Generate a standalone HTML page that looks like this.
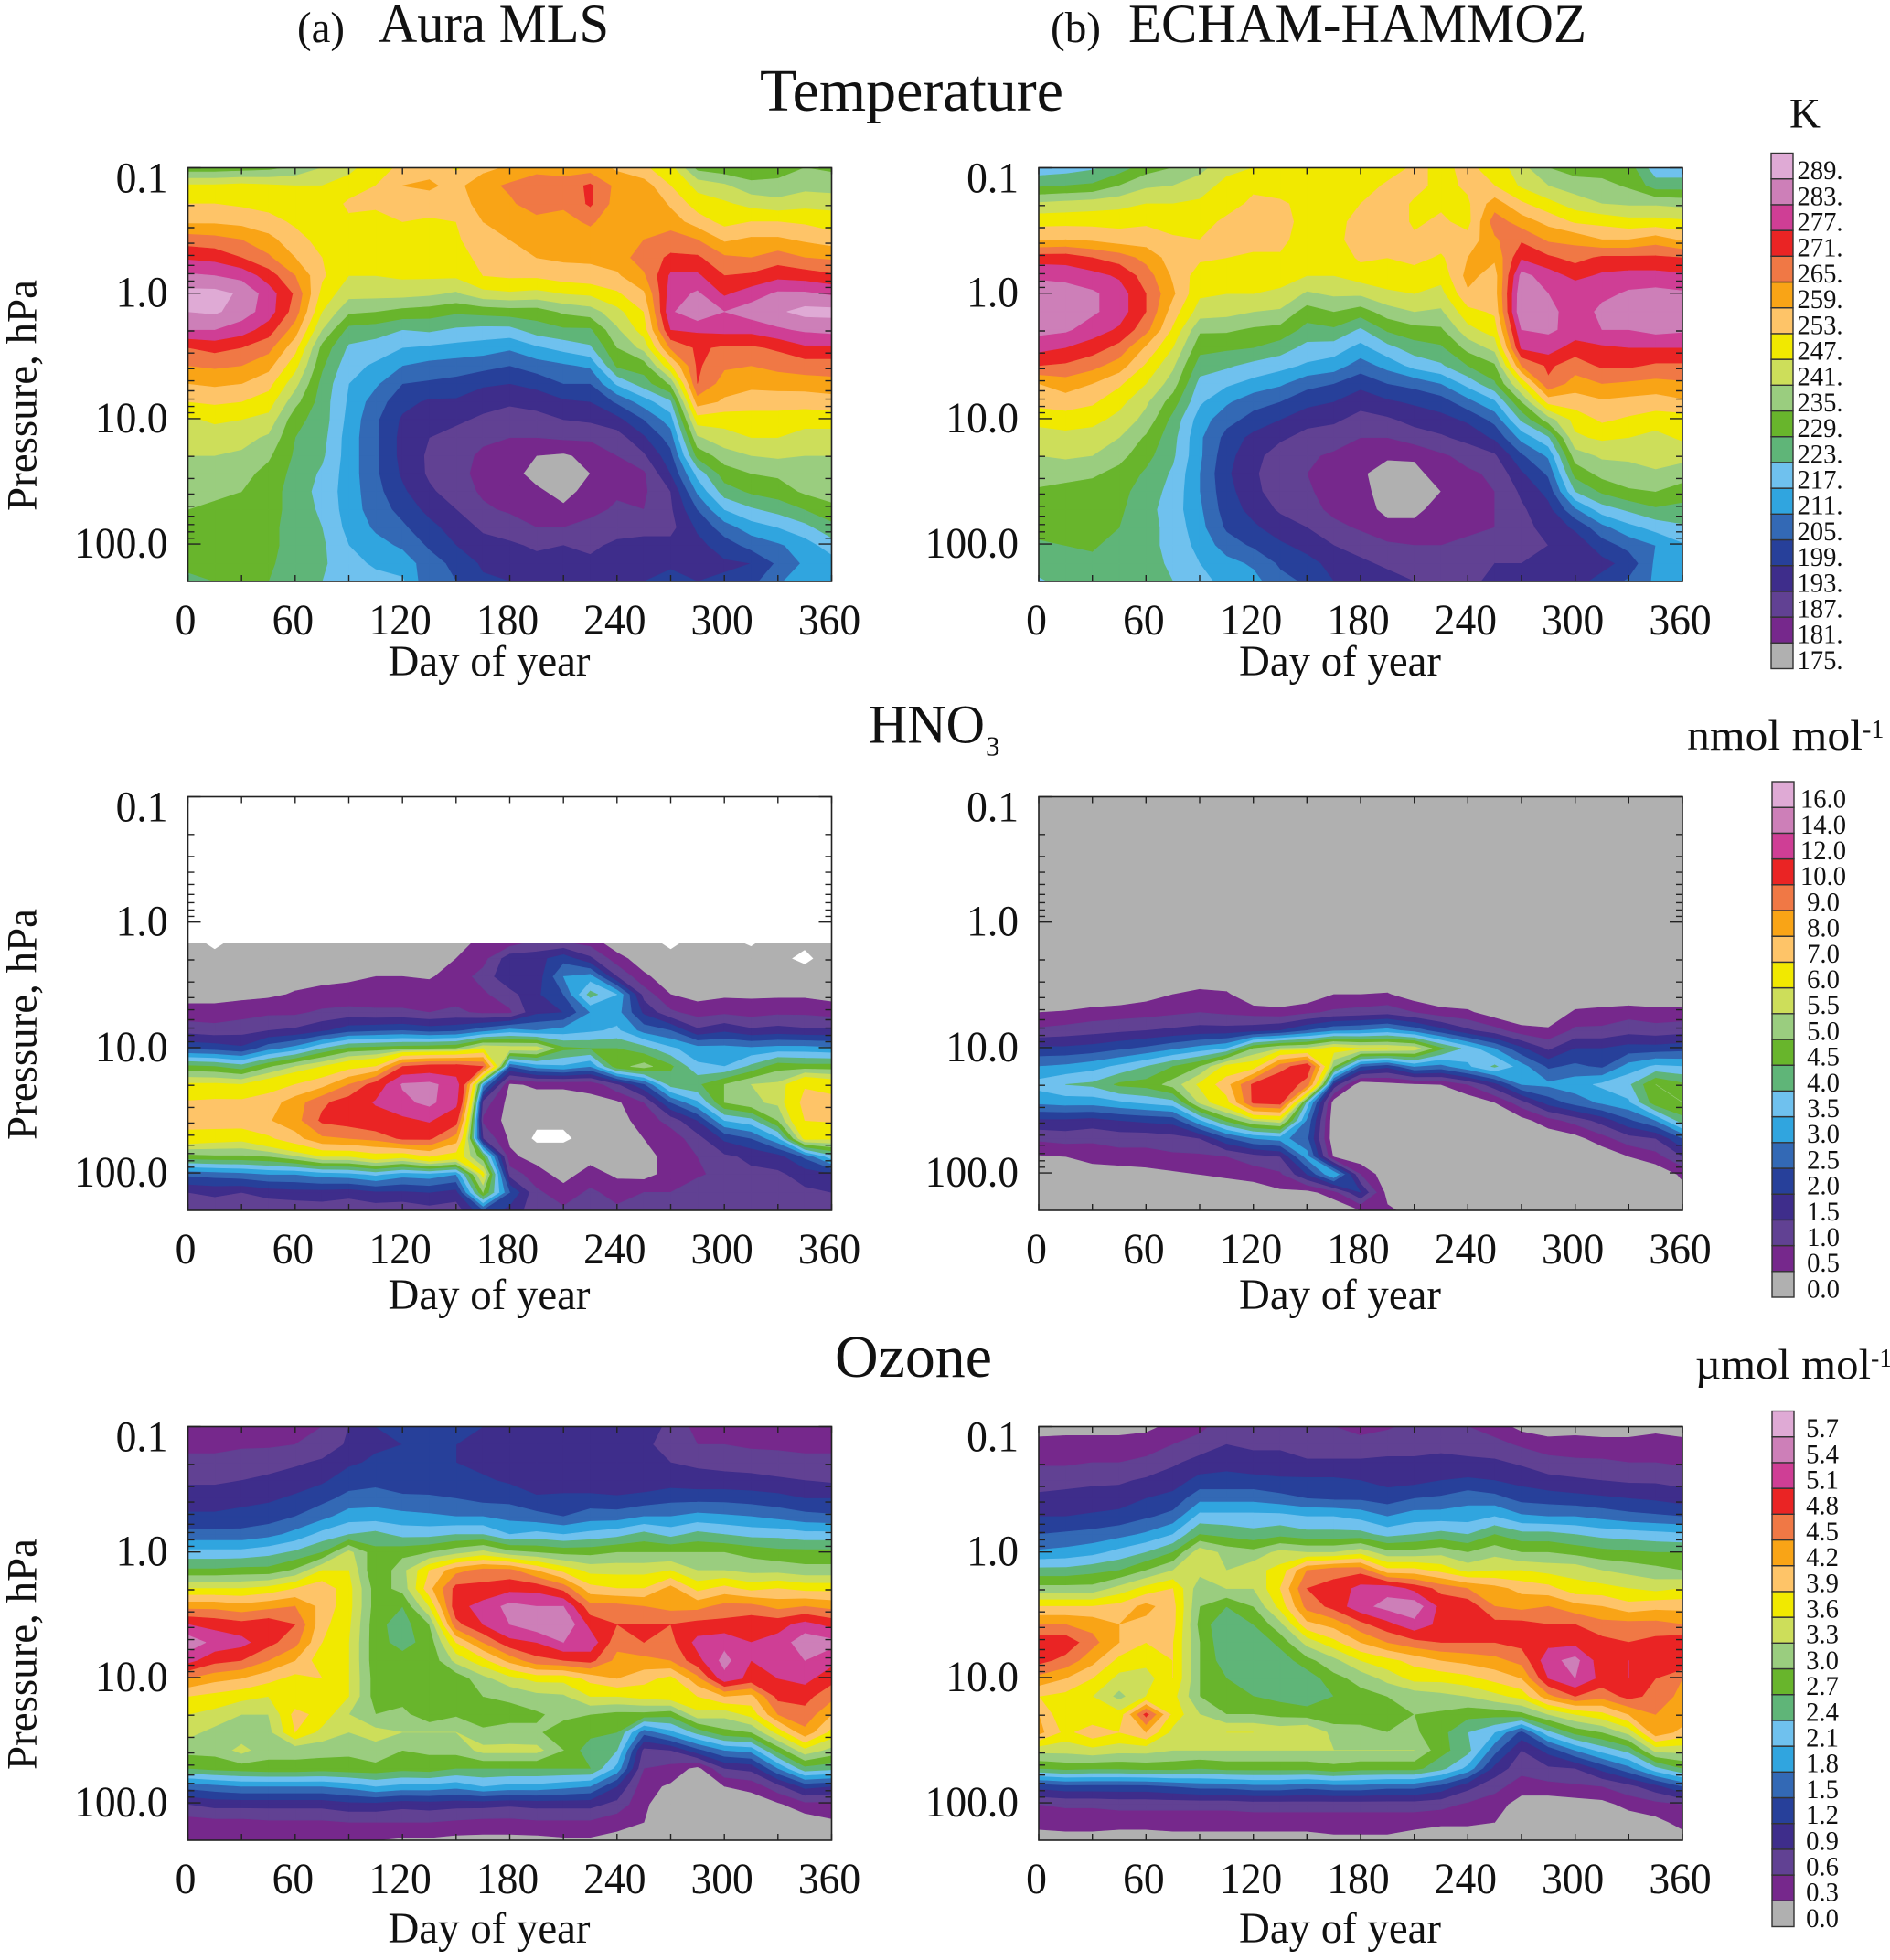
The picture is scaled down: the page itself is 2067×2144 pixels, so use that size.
<!DOCTYPE html>
<html lang="en">
<head>
<meta charset="utf-8">
<title>Temperature, HNO3 and Ozone: Aura MLS vs ECHAM-HAMMOZ</title>
<style>
html,body{margin:0;padding:0;background:#fff;}
svg{display:block;}
text{font-family:"Liberation Serif",serif;fill:#111;}
</style>
</head>
<body>
<svg id="figure" xmlns="http://www.w3.org/2000/svg" width="2067" height="2144" viewBox="0 0 2067 2144">
<rect x="0" y="0" width="2067" height="2144" fill="#fff"/>
<text x="325" y="46" font-size="48" textLength="52" lengthAdjust="spacingAndGlyphs">(a)</text>
<text x="414" y="46" font-size="60" textLength="252" lengthAdjust="spacingAndGlyphs">Aura MLS</text>
<text x="1149" y="46" font-size="48" textLength="55" lengthAdjust="spacingAndGlyphs">(b)</text>
<text x="1234" y="46" font-size="60" textLength="501" lengthAdjust="spacingAndGlyphs">ECHAM-HAMMOZ</text>
<text x="831" y="121" font-size="66" textLength="332" lengthAdjust="spacingAndGlyphs">Temperature</text>
<text x="950" y="812.5" font-size="60" textLength="127" lengthAdjust="spacingAndGlyphs">HNO</text>
<text x="1078" y="826.5" font-size="31">3</text>
<text x="913" y="1506" font-size="66" textLength="172" lengthAdjust="spacingAndGlyphs">Ozone</text>
<text x="1957" y="139.5" font-size="47">K</text>
<text x="1845" y="820" font-size="47" textLength="192" lengthAdjust="spacingAndGlyphs">nmol mol</text>
<text x="2037" y="807" font-size="28">-1</text>
<text x="1854" y="1508" font-size="47" textLength="192" lengthAdjust="spacingAndGlyphs">µmol mol</text>
<text x="2046" y="1495" font-size="28">-1</text>
<g id="plots"></g>
</svg>
<script>
const _ = null;
const days = [0,15,30,45,60,75,90,105,120,135,150,165,180,195,210,225,240,255,270,285,300,315,330,345,360];
const pressureLevels = [0.1,0.1391,0.1936,0.2693,0.3746,0.5211,0.7251,1.009,1.403,1.952,2.716,3.779,5.257,7.314,10.17,14.15,19.69,27.39,38.11,53.02,73.77,102.6,142.8,198.6];
const xTickLabels = [0,60,120,180,240,300,360];
const xTickDays = [0,30,60,90,120,150,180,210,240,270,300,330,360];
const yTickLabels = ["0.1","1.0","10.0","100.0"];
const yMinorTicks = [0.2,0.3,0.4,0.5,0.6,0.7,0.8,0.9,2,3,4,5,6,7,8,9,20,30,40,50,60,70,80,90];
const temperatureLevels = [175,181,187,193,199,205,211,217,223,229,235,241,247,253,259,265,271,277,283,289];
const hno3Levels = [0,0.5,1,1.5,2,2.5,3,3.5,4,4.5,5,5.5,6,7,8,9,10,12,14,16];
const ozoneLevels = [0,0.3,0.6,0.9,1.2,1.5,1.8,2.1,2.4,2.7,3,3.3,3.6,3.9,4.2,4.5,4.8,5.1,5.4,5.7];
const bandColors = ["#b0b0b0","#76288c","#614193","#3e2d8b","#27409a","#3369b5","#30a5df","#6fc1ee","#5fb578","#68b52c","#9acd7f","#cdde5a","#f1e900","#fec468","#f9a416","#f07845","#ea2424","#cf3e95","#cd7fb8","#dfaad5"];

/* Each inner array is one vertical profile: one value per pressure level, one profile per day */
const mlsTemperature = [
[231,248,253,258,268,276,284,291,289,283,271,265,259,253,246,243,241,239,237,235,233,231,230,228],
[231,248,253,258,267,275,283,291,290,283,273,266,260,254,248,244,241,238,236,234,233,232,231,229],
[232,249,252,257,265,271,281,288,286,280,271,265,259,253,247,243,240,237,235,233,233,232,231,230],
[233,248,251,255,261,266,274,280,280,274,267,261,255,250,245,240,236,233,232,232,231,231,230,229],
[236,247,249,252,255,259,265,270,268,262,255,249,243,237,231,229,228,227,226,226,226,226,226,226],
[241,247,249,250,251,253,254,251,247,241,233,230,227,226,226,225,224,222,221,222,223,224,224,223],
[245,250,254,252,249,248,247,243,236,227,222,219,217,216,215,214,214,214,214,214,215,217,219,221],
[251,253,254,251,249,248,247,243,235,226,220,216,212,208,206,206,206,206,207,208,210,213,216,219],
[254,259,257,253,250,249,248,243,233,223,217,211,205,201,198,197,197,198,200,203,206,210,214,218],
[257,260,256,252,250,249,248,242,232,224,216,209,204,198,195,193,192,192,194,197,201,204,208,206],
[252,257,255,253,252,250,248,240,230,222,215,208,203,198,194,191,189,189,190,193,196,199,203,205],
[257,263,262,259,257,255,253,245,231,221,214,207,200,195,192,188,186,185,186,188,192,195,198,200],
[260,266,264,260,259,257,254,246,232,221,212,205,199,194,190,187,184,183,183,186,190,194,197,199],
[262,270,268,263,261,259,254,245,232,226,216,208,201,195,191,187,181,179,182,184,187,192,195,197],
[262,268,266,263,262,260,256,247,236,228,219,210,205,198,193,188,180,178,179,182,187,193,196,195],
[262,272,272,266,262,260,257,248,238,228,222,212,205,199,194,188,183,181,183,185,189,192,194,195],
[258,263,262,261,263,262,258,252,245,240,235,230,218,206,197,190,187,185,186,188,191,194,195,194],
[254,262,265,262,265,268,264,258,253,250,243,232,226,214,205,198,192,186,186,187,191,195,197,199],
[249,253,258,262,268,272,278,280,282,277,266,252,236,222,214,208,203,199,193,192,191,195,198,201],
[233,245,250,256,265,272,278,284,288,278,272,272,271,262,250,240,231,219,212,205,200,197,197,199],
[231,242,248,251,258,266,271,276,283,279,270,266,262,258,249,245,238,232,226,217,208,202,198,200],
[230,237,245,253,260,265,272,280,286,279,270,265,261,255,251,247,241,235,230,222,214,207,199,203],
[232,237,243,253,260,268,275,284,288,282,272,267,261,256,250,247,242,236,232,225,217,210,206,210],
[235,239,245,252,258,265,274,284,291,284,276,268,262,255,250,244,241,238,236,229,221,214,212,215],
[234,238,245,250,256,264,272,282,291,285,276,268,263,256,250,244,241,239,238,233,227,220,214,212]
];
const modelTemperature = [
[219,228,242,251,258,274,282,286,287,285,279,271,259,255,249,244,241,238,234,232,231,228,226,222],
[220,229,243,251,259,274,281,286,287,284,277,270,262,256,250,245,242,237,233,231,230,229,226,225],
[222,230,244,251,258,271,279,284,284,280,274,267,259,254,249,244,241,236,232,230,230,230,227,225],
[226,235,245,251,256,268,276,280,280,276,269,262,254,249,245,241,237,233,231,230,229,226,225,225],
[232,240,247,252,256,263,268,271,271,267,258,252,247,242,239,234,231,228,226,225,225,225,225,224],
[235,241,247,250,254,256,258,260,256,252,247,242,238,232,227,225,224,222,221,220,221,221,222,223],
[239,244,248,251,253,254,250,248,244,236,231,226,221,218,214,212,212,211,211,212,213,215,217,218],
[245,249,251,254,255,253,250,247,243,236,230,224,218,212,207,203,201,200,201,202,204,208,213,216],
[247,252,254,256,255,252,249,247,241,234,229,221,215,207,203,197,195,194,195,197,200,204,210,213],
[248,250,254,256,255,252,249,246,240,233,226,219,212,205,199,194,190,189,189,192,196,200,204,207],
[249,250,251,250,249,248,247,240,232,227,221,216,207,201,195,191,188,187,188,190,193,197,201,204],
[253,251,251,251,251,249,247,242,235,228,220,214,205,199,194,190,186,184,184,185,189,193,197,199],
[250,250,253,255,256,254,250,242,232,222,215,208,201,195,191,187,184,182,183,184,186,191,194,197],
[250,254,257,257,255,253,250,246,238,230,221,213,205,198,192,187,182,178,178,179,183,188,192,195],
[254,255,252,252,254,255,250,247,241,233,226,219,207,200,195,190,182,179,178,179,183,187,190,193],
[252,251,252,254,256,252,249,245,240,234,228,222,211,202,197,192,186,184,181,184,186,187,190,191],
[254,254,252,251,255,259,261,258,251,245,237,229,219,209,200,195,189,186,185,184,186,188,190,192],
[251,253,262,268,264,260,256,256,254,250,243,234,228,216,207,200,192,188,187,187,187,190,193,194],
[243,246,254,262,270,276,285,288,289,283,278,265,248,235,224,213,204,198,194,192,191,191,193,195],
[235,241,249,257,264,272,280,283,286,284,280,272,270,255,238,222,212,206,201,197,195,193,193,195],
[232,238,244,252,263,269,275,282,278,281,274,268,262,256,249,246,238,231,223,210,200,195,194,197],
[232,237,241,251,259,272,278,281,285,283,276,272,265,258,254,248,242,237,230,220,209,202,197,201],
[232,234,240,249,259,272,279,284,286,283,277,272,264,257,252,247,242,239,234,224,215,207,201,206],
[219,226,240,249,262,272,279,285,289,285,277,270,263,256,250,245,244,240,235,228,219,211,212,212],
[219,226,239,248,258,271,278,284,287,284,277,270,264,258,250,248,243,238,232,227,222,216,212,211]
];
const mlsHno3 = [
[_,_,_,_,_,_,_,_,.1,.1,.2,.3,.7,1.3,2.4,4.6,6.1,7.1,7.5,6.5,4.8,2.6,1.5,1.1],
[_,_,_,_,_,_,_,_,-.1,.1,.2,.3,.7,1.2,2.3,4.5,6.1,7.2,7.6,6.3,4.9,2.7,1.6,1.2],
[_,_,_,_,_,_,_,_,.1,.1,.2,.35,.8,1.3,2.1,4.2,6,7.2,7.6,6.2,4.9,2.8,1.5,1.1],
[_,_,_,_,_,_,_,_,.1,.2,.2,.4,.9,1.5,2.8,4.9,6.5,7.5,7.9,6.8,5,3,1.7,1.1],
[_,_,_,_,_,_,_,_,.1,.2,.3,.55,.9,1.6,3.2,5.5,7,8.5,8.6,7.6,5.4,3,1.8,1.1],
[_,_,_,_,_,_,_,_,.1,.2,.4,.6,1.1,1.9,4,6,7.6,9.8,10.2,8.8,6,3.2,1.8,1.2],
[_,_,_,_,_,_,_,_,.2,.2,.45,.6,1.2,2.3,4.6,6.6,9,10.5,10.5,9,6,3.3,1.7,1.1],
[_,_,_,_,_,_,_,_,.1,.3,.5,.7,1.1,2.4,4.7,7,10.5,12.2,11,9.3,6.5,3.6,1.9,1.2],
[_,_,_,_,_,_,_,_,.2,.3,.5,.7,1.1,2.5,4.8,10,14.2,13.5,11.5,10.2,6.2,3.2,1.9,1.1],
[_,_,_,_,_,_,_,_,.3,.3,.45,.75,1,2.3,4.9,10.5,14.5,14.5,12.2,10.2,7,3.3,2,1.3],
[_,_,_,_,_,_,_,_,.3,.5,.7,.8,1.1,2.4,5,10.6,13,12.5,10.5,8.5,6.5,3,1.8,1.2],
[_,_,_,_,_,_,_,_,.6,.8,1.2,.9,.9,2.8,6,10,3.2,1.3,.9,1.5,4.6,6.2,5,2.4],
[_,_,_,_,_,_,_,_,.6,1.8,1.9,1.3,.9,3.2,5.8,2.5,.4,.3,.3,.4,.6,1.3,2.5,1.8],
[_,_,_,_,_,_,_,_,1,1.8,1.7,1.9,1.9,3,5.8,3.2,.6,.2,.1,-.1,.3,.7,1.1,1.2],
[_,_,_,_,_,_,_,_,.9,2.3,3,2.5,2,3.2,4.6,3.4,.6,.2,.1,-.1,.3,.3,.7,1.1],
[_,_,_,_,_,_,_,_,.7,1.6,3.2,4.2,3,3.4,4.5,3,.6,.4,.3,.2,.3,.7,1.1,1.2],
[_,_,_,_,_,_,_,_,.1,.7,1.5,3.5,3.2,3.6,4.5,4.8,1.4,.4,.3,.3,.3,.4,.8,1.1],
[_,_,_,_,_,_,_,_,.1,.2,.6,1.3,1.9,2.8,4.2,5.2,2.4,1,.7,.5,.4,.3,1,1.1],
[_,_,_,_,_,_,_,_,-.1,.1,.2,.5,1.1,2.5,3.6,4.6,4.2,2.5,1.2,.7,.6,.7,1,1.1],
[_,_,_,_,_,_,_,_,.1,.2,.1,.3,.8,1.6,3.2,3.6,4.4,3.4,2,1.3,1,.9,1.4,1.1],
[_,_,_,_,_,_,_,_,.1,.1,.2,.4,.9,1.9,3.2,3.5,5,5,3.5,2.1,1.4,1.2,1.2,1.1],
[_,_,_,_,_,_,_,_,-.1,.2,.2,.4,.8,1.6,3.1,4.1,5.5,5.4,3.8,2.5,1.6,1.4,1.2,1.1],
[_,_,_,_,_,_,_,_,.2,.1,.1,.4,.9,1.7,3.2,4.8,5.6,5.6,5,3.4,1.8,1.4,1.3,1.2],
[_,_,_,_,_,_,_,_,.1,-.1,.2,.4,.9,1.6,3.2,4.7,6.9,7.3,7,6.2,2.6,1.7,1.4,1.2],
[_,_,_,_,_,_,_,_,.1,.2,.1,.3,.8,1.6,3.1,4.7,6.5,7.4,7.1,6.1,3.8,1.9,1.5,1.1]
];
const modelHno3 = [
[0,0,0,0,0,0,0,0,0,0,0,0,.5,1.1,2.1,3,3.7,3.1,1.9,1.1,.45,0,0,0],
[0,0,0,0,0,0,0,0,0,0,0,0,.55,1.2,2.1,3.1,4,3.2,1.9,1.2,.5,.1,0,0],
[0,0,0,0,0,0,0,0,0,0,0,0,.7,1.3,2.2,3.3,4.1,3.2,1.8,1.1,.7,.2,0,0],
[0,0,0,0,0,0,0,0,0,0,0,.1,.75,1.4,2.4,3.6,4.6,3.4,2,1.2,.8,.2,0,0],
[0,0,0,0,0,0,0,0,0,0,0,.3,.8,1.5,2.6,4,4.7,3.6,2.1,1.2,.8,.3,0,0],
[0,0,0,0,0,0,0,0,0,0,0,.5,.9,1.6,2.9,4.5,5.2,3.8,2.2,1.3,.9,.4,0,0],
[0,0,0,0,0,0,0,0,0,0,0,.7,1,1.7,3.2,5,6.1,5.6,3.4,1.5,.9,.5,0,0],
[0,0,0,0,0,0,0,0,0,0,0,.6,.9,1.7,3.5,6.2,7.6,6.6,4.6,2.4,1,.6,.1,0],
[0,0,0,0,0,0,0,0,0,0,0,0,.8,1.8,5,6.4,10.2,10.2,5.5,3,1.3,.7,.2,0],
[0,0,0,0,0,0,0,0,0,0,0,0,.7,2,5.5,9.5,11,10.5,5.8,3.2,1.5,.9,.4,0],
[0,0,0,0,0,0,0,0,0,0,0,.1,.9,2.5,5.6,10.8,9.5,3.8,2.9,2.6,3.2,2,.3,0],
[0,0,0,0,0,0,0,0,0,0,0,.5,1.1,2.9,6.3,5,1.8,.2,.1,.1,.4,3.5,.8,0],
[0,0,0,0,0,0,0,0,0,0,0,.5,1.2,3,6,2.5,.1,0,0,0,.1,1,2,.5],
[0,0,0,0,0,0,0,0,0,0,0,.55,1.3,3.2,6,2.1,.3,0,0,0,0,.1,.3,.6],
[0,0,0,0,0,0,0,0,0,0,0,.2,1,2.8,5.8,3,.4,0,0,0,0,0,0,.3],
[0,0,0,0,0,0,0,0,0,0,0,0,.7,2.2,4.6,2.8,.5,0,0,0,0,0,0,0],
[0,0,0,0,0,0,0,0,0,0,0,0,.6,1.6,3.8,3.4,1,.1,0,0,0,0,0,0],
[0,0,0,0,0,0,0,0,0,0,0,0,.2,1.2,3,4.1,1.8,.5,0,0,0,0,0,0],
[0,0,0,0,0,0,0,0,0,0,0,0,0,.7,2.1,3.2,3,1.3,.3,0,0,0,0,0],
[0,0,0,0,0,0,0,0,0,0,0,0,0,.6,1.4,2.4,3.1,2.2,.8,.1,0,0,0,0],
[0,0,0,0,0,0,0,0,0,0,0,0,.6,1.1,2,2.6,3.3,2.7,1.2,.3,0,0,0,0],
[0,0,0,0,0,0,0,0,0,0,0,0,.7,1.1,2,2.4,3.6,3.1,1.7,.8,.1,0,0,0],
[0,0,0,0,0,0,0,0,0,0,0,0,.8,1.3,2.2,3.2,3.9,3.4,2.4,1.3,.5,0,0,0],
[0,0,0,0,0,0,0,0,0,0,0,0,.7,1.2,2.2,3.6,5,4.8,3,1.5,.8,.1,0,0],
[0,0,0,0,0,0,0,0,0,0,0,0,.7,1.3,2.3,3.5,4.6,5,4.3,2.5,1.5,.6,.3,0]
];
const mlsOzone = [
[.4,.5,.7,.85,1.05,1.25,1.6,2.2,2.75,3.6,4.4,5.1,5.6,5.2,4.5,3.9,3.6,3.4,3.1,2.7,1.6,.9,.45,.3],
[.4,.5,.7,.85,1.05,1.25,1.6,2.2,2.75,3.6,4.4,5,5.3,4.9,4.3,3.8,3.5,3.2,3.1,2.8,1.7,1,.5,.3],
[.4,.55,.75,.9,1.1,1.3,1.6,2.2,2.8,3.6,4.3,4.9,5.2,4.8,4.2,3.7,3.3,3.1,3.4,2.85,1.8,1,.5,.35],
[.45,.55,.8,.95,1.15,1.35,1.7,2.3,2.8,3.7,4.4,5,4.9,4.5,4,3.6,3.3,3.2,3.1,2.9,1.8,1,.55,.35],
[.5,.6,.85,1.05,1.25,1.5,1.9,2.45,3.05,3.9,4.5,4.8,4.6,4.2,3.8,3.65,4,3.9,3.1,2.9,1.8,1,.55,.35],
[.6,.7,.95,1.15,1.4,1.7,2.2,2.7,3.6,4.1,4.1,4,3.9,3.7,3.9,3.6,3.8,3.5,3.1,2.85,1.8,1,.55,.35],
[.9,.95,1.15,1.35,1.6,1.95,2.4,3.4,3.6,3.7,3.7,3.65,3.6,3.6,3.6,3.6,3.3,3.3,3.05,2.9,1.9,1.1,.6,.3],
[1.2,1.15,1.25,1.4,1.65,1.95,2.5,2.8,2.7,2.85,2.85,2.8,2.8,2.8,2.85,2.85,3,3.4,3.2,2.9,2.1,1.1,.6,.3],
[1.3,1.2,1.25,1.35,1.55,1.9,2.3,2.9,3.2,3.1,2.7,2.55,2.6,2.8,2.85,2.85,3.1,3.3,3,2.8,2,1,.6,.25],
[1.3,1.2,1.2,1.3,1.55,1.85,2.3,3,3.9,4.1,3.6,3,2.8,2.75,2.8,2.7,2.75,3.3,3.05,2.85,2,1.05,.6,.25],
[1.5,1.2,1.2,1.3,1.5,1.8,2.4,3.2,4.4,4.9,5,4.7,3.9,3.4,2.8,2.85,2.95,3.3,3.1,2.7,1.9,1,.55,.2],
[1.2,1.15,1.1,1.25,1.4,1.8,2.4,3.4,4.6,4.9,5.2,5.1,4.5,3.8,3.2,3,2.85,3.05,3.4,2.7,2.1,1,.5,.2],
[1.2,1.1,1,1.15,1.4,1.7,2.1,3.1,4.6,5,5.5,5.4,5,4.3,3.5,3.05,2.9,3.1,3.4,2.7,2,.95,.5,.2],
[1.2,1.1,.95,1,1.25,1.6,2.2,3,4.2,5,5.4,5.6,5.1,4.7,3.7,3.2,2.95,3.05,3.4,2.7,2,1,.55,.2],
[1.1,1.05,.95,.95,1.3,1.5,2.1,2.9,3.8,4.7,5.4,5.7,5.4,4.8,3.7,3.25,3.1,2.8,3,2.7,1.9,1,.55,.25],
[1.1,1.05,.95,.95,1.3,1.65,2.2,2.9,3.5,4,4.6,5,5.3,4.9,4,3.6,3,2.8,2.5,2.7,1.8,1,.55,.25],
[1.1,1,.9,.95,1.25,1.65,2.3,3,3.5,3.9,4.6,4.8,4.6,4.4,4.2,3.6,2.9,2.7,2.4,2,1.2,.8,.4,.2],
[1.1,.95,.9,1,1.3,1.8,2.5,3,3.5,3.9,4.5,4.8,4.8,4.4,4,3.7,2.9,1.6,.8,.6,.4,.35,.3,.2],
[.8,.8,.9,1.05,1.4,1.8,2.3,3,3.6,4.3,4.4,4.8,4.7,4.5,3.8,3.8,2.8,2,.9,.5,.25,.1,.1,.1],
[.5,.6,.85,1,1.4,1.9,2.5,3,3.3,3.8,4.4,4.9,5.2,5,4.4,3.9,3.5,2.5,1.4,.2,.1,.1,.1,.1],
[.4,.6,.8,1,1.4,1.85,2.4,3,3.3,4,4.6,4.9,5.3,5.5,5.3,4.2,3.4,2.9,1.8,.9,.3,.1,.1,.1],
[.4,.55,.75,1,1.35,1.8,2.3,2.9,3.2,3.8,4.6,5,5.1,5.1,5,4.1,3.7,3,1.9,1,.4,.1,.1,.1],
[.35,.55,.7,.95,1.3,1.7,2.3,2.8,3.2,3.9,4.4,5,5.2,5.3,5.1,4.9,4.5,3.7,2.8,1.8,.8,.25,.1,.1],
[.35,.5,.7,.9,1.2,1.6,2.2,2.8,3.1,3.8,4.5,5.2,5.6,5.4,5.2,4.9,4.7,4.4,3.5,2.6,1.3,.5,.1,.1],
[.35,.5,.7,.85,1.2,1.55,2.2,2.8,3.1,3.8,4.4,5,5.5,5.2,4.9,4.6,4.2,3.8,3.2,2.5,1.2,.5,.25,.15]
];
const modelOzone = [
[.1,.45,.55,.8,.95,1.2,1.5,1.85,2.5,3.1,3.9,4.5,5,4.9,4.4,3.9,4.2,4.3,3.4,2.7,1.3,.6,.4,.15],
[.15,.45,.55,.8,1,1.2,1.55,1.9,2.5,3.1,3.9,4.5,5,4.7,4.2,3.8,3.6,3.8,3.4,2.8,1.4,.65,.4,.2],
[.15,.45,.6,.85,1,1.25,1.6,2,2.6,3.1,3.9,4.4,4.6,4.3,3.9,3.6,3.6,4.1,3.5,2.75,1.4,.65,.4,.2],
[.15,.45,.6,.85,1.05,1.3,1.7,2.2,2.7,3.4,4,4.2,4.2,3.8,3.5,3.2,3.7,3.9,3.4,2.75,1.4,.7,.4,.15],
[.2,.5,.65,.95,1.2,1.45,1.85,2.4,3,3.7,4.3,4.1,3.9,3.7,3.45,3.6,4.9,4.2,3.4,2.8,1.4,.7,.4,.15],
[.4,.6,.85,1.05,1.3,1.6,2.1,2.7,3.3,3.9,4,4,3.9,3.9,3.9,3.7,3.8,3.5,3.3,2.8,1.5,.7,.4,.2],
[.5,.75,1,1.3,1.7,2.2,2.7,3.5,3.4,3.1,3,2.9,3,3,3,3,3.3,3.5,3.3,2.7,1.6,.7,.4,.2],
[.8,.9,1.1,1.3,1.7,2.2,2.6,3.2,3.3,3.3,2.7,2.4,2.4,2.5,2.7,2.8,3,3.6,3.3,2.8,1.6,.7,.4,.2],
[.85,.85,1,1.3,1.7,2.2,2.5,3.1,3.5,3.3,3,2.7,2.4,2.45,2.5,2.7,3,3.6,3.3,2.8,1.7,.75,.4,.2],
[.7,.85,1,1.25,1.6,2.2,2.6,3.4,3.7,3.9,3.7,3.2,2.8,2.5,2.45,2.6,2.9,3.5,3.3,2.8,1.7,.75,.4,.2],
[.7,.7,.95,1.25,1.5,2.1,2.5,3.3,4.5,4.8,4.6,4.1,3.4,2.9,2.5,2.5,2.85,3.6,3.3,2.8,1.6,.75,.4,.2],
[.6,.7,.95,1.25,1.45,2.1,2.5,3.3,4.7,4.9,4.9,4.3,3.8,3.2,2.9,2.7,2.75,3.2,3.3,2.9,1.7,.75,.4,.25],
[.5,.7,.95,1.2,1.45,2,2.5,3.5,4.7,5.2,5.3,4.7,4.2,3.6,3.1,2.9,2.85,3.1,3.3,2.8,1.7,.75,.4,.25],
[.55,.8,.95,1.1,1.35,1.8,2.3,3.1,4,5.3,5.5,5,4.5,3.8,3.4,3,2.8,3,3.3,2.8,1.6,.75,.4,.25],
[.7,.8,.95,1.1,1.5,1.95,2.4,3.1,4,5,5.6,5.3,4.7,4,3.7,3.1,3,3.05,3.3,2.8,1.6,.75,.4,.15],
[.75,.85,.95,1.2,1.55,1.95,2.5,3.2,3.8,4.7,5,5,4.8,4.2,3.7,3.2,2.95,2.8,2.8,2.5,1.4,.7,.35,.1],
[.6,.8,.95,1.25,1.7,1.95,2.4,3,3.5,4.5,5,5.1,4.8,4.3,3.8,3.3,2.8,2.4,2.5,2,1,.55,.35,.1],
[.45,.7,.95,1.2,1.6,2.1,2.7,3.2,3.6,4.3,4.5,4.9,4.8,4.4,4,3.5,2.8,2.1,1.6,1.1,.7,.45,.3,.15],
[.2,.55,.85,1.1,1.4,1.85,2.5,3,3.6,4.1,4.4,4.9,4.9,4.6,4.2,3.7,2.9,1.4,.9,.7,.45,.15,.1,.1],
[.1,.45,.7,1,1.35,1.8,2.5,3,3.5,4,4.5,4.8,5,5.3,5.1,4.4,3.3,2.3,1.3,.85,.5,.1,.1,.1],
[.15,.45,.65,.95,1.3,1.8,2.4,2.9,3.5,3.7,4.3,4.8,5,5.5,5.4,4.8,3.6,2.8,1.8,.9,.55,.15,.1,.1],
[.15,.4,.65,.9,1.25,1.7,2.3,2.8,3.3,3.7,4.2,4.6,4.9,4.9,5,4.6,3.8,3,2.2,1.3,.6,.2,.1,.1],
[.15,.4,.6,.85,1.2,1.6,2.25,2.75,3.2,3.6,4,4.6,4.8,5.1,5.1,4.9,4.2,3.4,2.5,1.7,.8,.4,.1,.1],
[.2,.45,.6,.85,1.15,1.55,2.2,2.7,3.1,3.5,4.1,4.6,4.9,4.9,4.8,4.7,4.5,4.4,3.4,2.3,1.1,.5,.2,.1],
[.15,.4,.55,.8,1.05,1.5,2.15,2.7,3,3.6,4.1,4.5,5,5.1,4.5,4.4,4.4,4.1,3.4,2.7,1.5,.6,.4,.15]
];

const SVGNS = "http://www.w3.org/2000/svg";
const plotsRoot = document.getElementById("plots");
const PANEL_W = 704, PANEL_H = 452.5, DECADE = 137.2;

function makeSvg(tag, parent) {
  const el = document.createElementNS(SVGNS, tag);
  parent.appendChild(el);
  return el;
}
function xScale(left, day) { return left + day / 360 * PANEL_W; }
function yScale(top, p) { return top + (Math.log10(p) + 1) * DECADE; }
function labelWidth(str, em) {
  let w = 0;
  for (const ch of String(str)) w += (ch === "." ? 0.25 : 0.5) * em;
  return w.toFixed(1);
}

/* Clip a cell polygon to the part where value >= level */
function clipCell(corners, level) {
  const out = [];
  for (let i = 0; i < corners.length; i++) {
    const a = corners[i], b = corners[(i + 1) % corners.length];
    const aIn = a[2] >= level, bIn = b[2] >= level;
    if (aIn) out.push(a);
    if (aIn !== bIn) {
      const t = (level - a[2]) / (b[2] - a[2]);
      out.push([a[0] + (b[0] - a[0]) * t, a[1] + (b[1] - a[1]) * t, level]);
    }
  }
  return out;
}

function drawContours(g, left, top, grid, levels, slug) {
  levels.forEach(function (level, li) {
    let d = "";
    for (let c = 0; c < days.length - 1; c++) {
      for (let r = 0; r < pressureLevels.length - 1; r++) {
        const v00 = grid[c][r], v10 = grid[c + 1][r], v11 = grid[c + 1][r + 1], v01 = grid[c][r + 1];
        if (v00 == null || v10 == null || v11 == null || v01 == null) continue;
        if (Math.max(v00, v10, v11, v01) < level) continue;
        const x0 = xScale(left, days[c]), x1 = xScale(left, days[c + 1]);
        const y0 = yScale(top, pressureLevels[r]), y1 = yScale(top, pressureLevels[r + 1]);
        const poly = clipCell([[x0, y0, v00], [x1, y0, v10], [x1, y1, v11], [x0, y1, v01]], level);
        if (poly.length < 3) continue;
        d += "M" + poly.map(function (p) { return p[0].toFixed(1) + " " + p[1].toFixed(1); }).join("L") + "Z";
      }
    }
    if (!d) return;
    const band = makeSvg("path", g);
    
    
    band.setAttribute("d", d);
    band.setAttribute("fill", bandColors[li]);
    band.setAttribute("stroke", bandColors[li]);
    band.setAttribute("stroke-width", "0.6");
  });
}

function drawPanel(cfg) {
  const left = cfg.left, top = cfg.top, bottom = top + PANEL_H, right = left + PANEL_W;
  const g = makeSvg("g", plotsRoot);
  
  

  const inset = cfg.clipInset || 0;
  const clip = makeSvg("clipPath", g);
  clip.setAttribute("id", "clip-" + cfg.slug);
  const clipRect = makeSvg("rect", clip);
  clipRect.setAttribute("x", left);
  clipRect.setAttribute("y", top + inset);
  clipRect.setAttribute("width", PANEL_W);
  clipRect.setAttribute("height", PANEL_H - inset);

  const bands = makeSvg("g", g);
  
  
  bands.setAttribute("clip-path", "url(#clip-" + cfg.slug + ")");
  drawContours(bands, left, top, cfg.grid, cfg.levels, cfg.slug);

  const frame = makeSvg("rect", g);
  
  
  frame.setAttribute("x", left);
  frame.setAttribute("y", top);
  frame.setAttribute("width", PANEL_W);
  frame.setAttribute("height", PANEL_H);
  frame.setAttribute("fill", "none");
  frame.setAttribute("stroke", "#222");
  frame.setAttribute("stroke-width", "1.6");

  let tickPath = "";
  xTickDays.forEach(function (dTick) {
    const x = xScale(left, dTick).toFixed(1);
    tickPath += "M" + x + " " + top + "v7M" + x + " " + bottom + "v-7";
  });
  yMinorTicks.forEach(function (p) {
    const y = yScale(top, p).toFixed(1);
    tickPath += "M" + left + " " + y + "h7M" + right + " " + y + "h-7";
  });
  yTickLabels.forEach(function (lab) {
    const y = yScale(top, parseFloat(lab)).toFixed(1);
    tickPath += "M" + left + " " + y + "h14M" + right + " " + y + "h-14";
  });
  const ticks = makeSvg("path", g);
  
  
  ticks.setAttribute("d", tickPath);
  ticks.setAttribute("fill", "none");
  ticks.setAttribute("stroke", "#222");
  ticks.setAttribute("stroke-width", "1.4");

  xTickLabels.forEach(function (lab) {
    const t = makeSvg("text", g);
    
    
    t.setAttribute("x", xScale(left, lab) - 2.5);
    t.setAttribute("y", bottom + 58);
    t.setAttribute("text-anchor", "middle");
    t.setAttribute("font-size", "48");
    t.setAttribute("textLength", labelWidth(lab, 45.5));
    t.setAttribute("lengthAdjust", "spacingAndGlyphs");
    t.textContent = lab;
  });
  yTickLabels.forEach(function (lab) {
    const p = parseFloat(lab);
    const t = makeSvg("text", g);
    
    
    t.setAttribute("x", left - 22);
    t.setAttribute("y", yScale(top, p) + (p === 0.1 ? 27 : 15));
    t.setAttribute("text-anchor", "end");
    t.setAttribute("font-size", "48");
    t.setAttribute("textLength", labelWidth(lab, 45.5));
    t.setAttribute("lengthAdjust", "spacingAndGlyphs");
    t.textContent = lab;
  });

  const xTitle = makeSvg("text", g);
  
  
  xTitle.setAttribute("x", left + 219);
  xTitle.setAttribute("y", bottom + cfg.xTitleGap);
  xTitle.setAttribute("font-size", "48");
  xTitle.setAttribute("textLength", "221");
  xTitle.setAttribute("lengthAdjust", "spacingAndGlyphs");
  xTitle.textContent = "Day of year";

  if (cfg.showYTitle) {
    const yTitle = makeSvg("text", g);
    
    
    const cy = top + 249;
    yTitle.setAttribute("transform", "translate(39.5 " + cy + ") rotate(-90)");
    yTitle.setAttribute("text-anchor", "middle");
    yTitle.setAttribute("font-size", "47");
    yTitle.setAttribute("textLength", "253");
    yTitle.setAttribute("lengthAdjust", "spacingAndGlyphs");
    yTitle.textContent = "Pressure, hPa";
  }
}

function drawColorbar(cfg) {
  const g = makeSvg("g", plotsRoot);
  
  
  const n = cfg.levels.length, cell = 28.2;
  cfg.levels.forEach(function (level, i) {
    const rowY = cfg.top + (n - 1 - i) * cell;
    const box = makeSvg("rect", g);
    
    
    box.setAttribute("x", cfg.left);
    box.setAttribute("y", rowY);
    box.setAttribute("width", 24);
    box.setAttribute("height", cell);
    box.setAttribute("fill", bandColors[i]);
    box.setAttribute("stroke", "#333");
    box.setAttribute("stroke-width", "1.4");
    const t = makeSvg("text", g);
    
    
    t.setAttribute("x", cfg.labelX);
    t.setAttribute("y", rowY + cell / 2 + 14.5);
    t.setAttribute("text-anchor", "middle");
    t.setAttribute("font-size", "30");
    t.setAttribute("textLength", labelWidth(cfg.format(level), 28.6));
    t.setAttribute("lengthAdjust", "spacingAndGlyphs");
    t.textContent = cfg.format(level);
  });
}

const LEFT_A = 205.5, LEFT_B = 1136, TOP_1 = 183.5, TOP_2 = 871.5, TOP_3 = 1560.5;
[
  {slug:"mls-temperature", left:LEFT_A, top:TOP_1, grid:mlsTemperature, levels:temperatureLevels, xTitleGap:103, showYTitle:true},
  {slug:"model-temperature", left:LEFT_B, top:TOP_1, grid:modelTemperature, levels:temperatureLevels, xTitleGap:103, showYTitle:false},
  {slug:"mls-hno3", left:LEFT_A, top:TOP_2, grid:mlsHno3, levels:hno3Levels, xTitleGap:108, showYTitle:true, clipInset:160},
  {slug:"model-hno3", left:LEFT_B, top:TOP_2, grid:modelHno3, levels:hno3Levels, xTitleGap:108, showYTitle:false},
  {slug:"mls-ozone", left:LEFT_A, top:TOP_3, grid:mlsOzone, levels:ozoneLevels, xTitleGap:112, showYTitle:true},
  {slug:"model-ozone", left:LEFT_B, top:TOP_3, grid:modelOzone, levels:ozoneLevels, xTitleGap:112, showYTitle:false}
].forEach(drawPanel);

drawColorbar({slug:"temperature", left:1937, top:167.5, labelX:1990.5, levels:temperatureLevels, format:function (v) { return v + "."; }});
drawColorbar({slug:"hno3", left:1938, top:855, labelX:1994, levels:hno3Levels, format:function (v) { return v.toFixed(1); }});
drawColorbar({slug:"ozone", left:1938, top:1543.5, labelX:1993, levels:ozoneLevels, format:function (v) { return v.toFixed(1); }});
</script>
</body>
</html>
